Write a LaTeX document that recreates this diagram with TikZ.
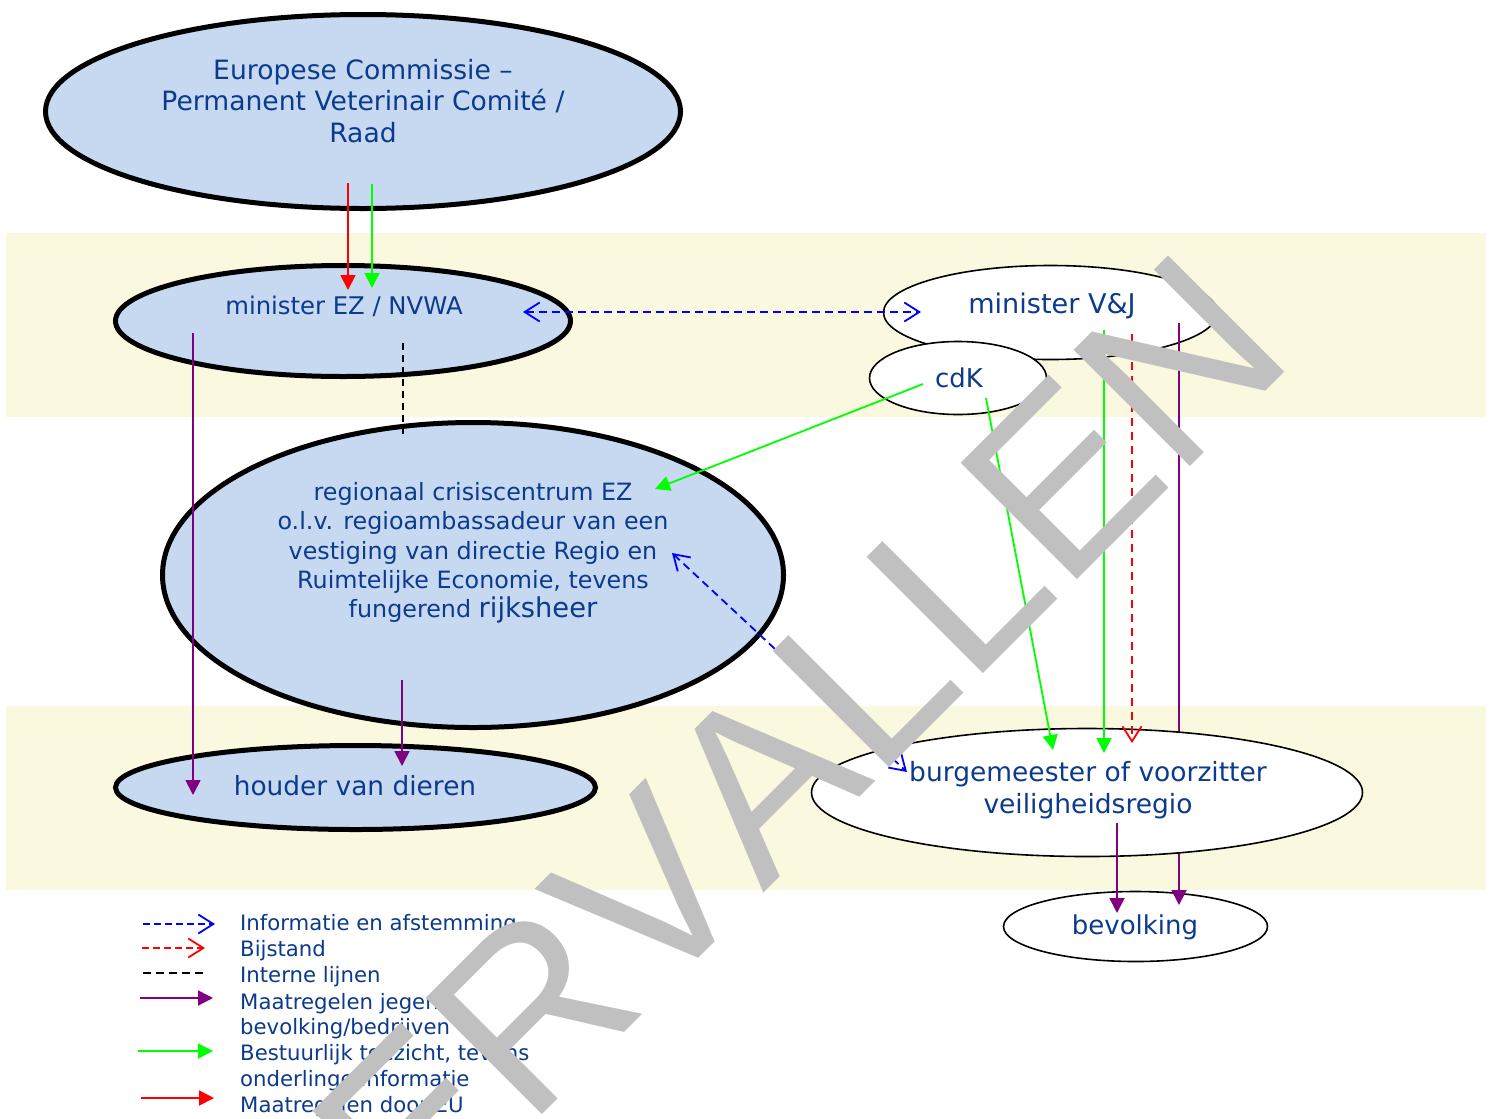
\documentclass[tikz,border=0pt]{standalone}
\usepackage{fontspec}
\setmainfont{DejaVu Sans}
\newfontfamily\wmfont[Kerning=Off]{Liberation Sans}
\usetikzlibrary{shapes.geometric,arrows.meta}
\definecolor{txtblue}{RGB}{12,58,140}
\definecolor{ellfill}{RGB}{198,217,241}
\definecolor{bandcol}{RGB}{250,248,222}
\definecolor{wmgray}{RGB}{192,192,192}
\definecolor{purp}{RGB}{128,0,128}
\definecolor{grn}{RGB}{0,255,0}
\definecolor{rd}{RGB}{255,0,0}
\definecolor{bl}{RGB}{0,0,255}
\begin{document}
\begin{tikzpicture}[x=1bp,y=-1bp,
  thickell/.style={ellipse, draw=black, line width=5bp, fill=ellfill, inner sep=0pt},
  thinell/.style={ellipse, draw=black, line width=1.6bp, fill=white, inner sep=0pt},
  lbl/.style={text=txtblue, inner sep=0pt, align=center},
  legtxt/.style={text=txtblue, inner sep=0pt, anchor=west, font=\fontsize{21.3}{26}\selectfont},
  conn/.style={line width=1.8bp},
  solidtip/.style={-{Triangle[length=15bp,width=15bp]}},
  opentip/.style={-{Straight Barb[length=15bp,width=19bp]}},
  bothopen/.style={{Straight Barb[length=15bp,width=19bp]}-{Straight Barb[length=15bp,width=19bp]}},
  bluedash/.style={conn, bl, dash pattern=on 8bp off 5bp},
  reddash/.style={conn, rd, dash pattern=on 8bp off 6bp},
  blackdash/.style={conn, black, dash pattern=on 7bp off 5bp},
]
\useasboundingbox (0,0) rectangle (1492,1118);
\clip (0,0) rectangle (1492,1118);
\fill[white] (0,0) rectangle (1492,1118);
\fill[bandcol] (6,233) rectangle (1486,417);
\fill[bandcol] (6,706) rectangle (1486,890);

% ellipses
\node[thickell, minimum width=635bp, minimum height=194bp] (ec) at (363,111.5) {};
\node[thickell, minimum width=455bp, minimum height=111bp] (ez) at (343,321) {};
\node[thickell, minimum width=621bp, minimum height=305bp] (rc) at (473,575) {};
\node[thickell, minimum width=480bp, minimum height=84bp] (hd) at (355.5,787.5) {};
\node[thinell, minimum width=334bp, minimum height=94bp] (vj) at (1050.5,312.5) {};
\node[thinell, minimum width=177bp, minimum height=73bp] (cdk) at (958,378) {};
\node[thinell, minimum width=264bp, minimum height=70bp] (bv) at (1135.5,926.5) {};

% coordinates
\coordinate (a1s) at (348,183); \coordinate (a1e) at (348,290);
\coordinate (a2s) at (372,184); \coordinate (a2e) at (372,288);
\coordinate (b1s) at (523,312); \coordinate (b1e) at (921,312);
\coordinate (p1s) at (193,333); \coordinate (p1e) at (193,795);
\coordinate (k1s) at (403,343); \coordinate (k1e) at (403,435);
\coordinate (g3s) at (923,384); \coordinate (g3e) at (655,489);
\coordinate (b2s) at (672,553); \coordinate (b2e) at (907,772);
\coordinate (p2s) at (402,680); \coordinate (p2e) at (402,766);
\coordinate (g4s) at (986,398); \coordinate (g4e) at (1053,750);
\coordinate (g5s) at (1104,330); \coordinate (g5e) at (1104,753);
\coordinate (r2s) at (1132,334); \coordinate (r2e) at (1132,743);
\coordinate (p3s) at (1179,323); \coordinate (p3e) at (1179,905);
\coordinate (p4s) at (1117,823); \coordinate (p4e) at (1117,913);

% purple line passing behind burgemeester
\draw[conn, purp, solidtip] (p3s) -- (p3e);

\node[thinell, minimum width=551bp, minimum height=128bp] (bg) at (1087,792.5) {};

% texts
\node[lbl, font=\fontsize{26.7}{32}\selectfont] (ecT) at (363,101) {Europese Commissie –\\Permanent Veterinair Comité /\\Raad};
\node[lbl, font=\fontsize{24.4}{29}\selectfont] (ezT) at (344,306) {minister EZ / NVWA};
\node[lbl, font=\fontsize{23.9}{29.5}\selectfont] (rcT) at (473,553) {regionaal crisiscentrum EZ\\o.l.v. regioambassadeur van een\\vestiging van directie Regio en\\Ruimtelijke Economie, tevens\\fungerend {\fontsize{27.4}{29.5}\selectfont rijksheer}};
\node[lbl, font=\fontsize{27.2}{32}\selectfont] (vjT) at (1052,306) {minister V\&J};
\node[lbl, font=\fontsize{26}{30}\selectfont] (cdkT) at (959,378) {cdK};
\node[lbl, font=\fontsize{26.5}{30}\selectfont] (hdT) at (355,786) {houder van dieren};
\node[lbl, font=\fontsize{26.6}{32}\selectfont] (bgT) at (1088,790) {burgemeester of voorzitter\\veiligheidsregio};
\node[lbl, font=\fontsize{26.1}{30}\selectfont] (bvT) at (1135,927) {bevolking};

% connectors
\draw[conn, rd, solidtip] (a1s) -- (a1e);
\draw[conn, grn, solidtip] (a2s) -- (a2e);
\draw[bluedash, bothopen] (b1s) -- (b1e);
\draw[conn, purp, solidtip] (p1s) -- (p1e);
\draw[blackdash] (k1s) -- (k1e);
\draw[conn, grn, solidtip] (g3s) -- (g3e);
\draw[bluedash, bothopen] (b2s) -- (b2e);
\draw[conn, purp, solidtip] (p2s) -- (p2e);
\draw[conn, grn, solidtip] (g4s) -- (g4e);
\draw[conn, grn, solidtip] (g5s) -- (g5e);
\draw[reddash, opentip] (r2s) -- (r2e);
\draw[conn, purp, solidtip] (p4s) -- (p4e);

% legend
\coordinate (l1s) at (143,924); \coordinate (l1e) at (215,924);
\coordinate (l2s) at (142,948); \coordinate (l2e) at (205,948);
\coordinate (l3s) at (143,973); \coordinate (l3e) at (207,973);
\coordinate (l4s) at (140,998); \coordinate (l4e) at (213,998);
\coordinate (l5s) at (138,1051); \coordinate (l5e) at (213,1051);
\coordinate (l6s) at (141,1098); \coordinate (l6e) at (214,1098);
\draw[conn, bl, dash pattern=on 7bp off 4bp, opentip] (l1s) -- (l1e);
\draw[conn, rd, dash pattern=on 7bp off 4bp, opentip] (l2s) -- (l2e);
\draw[conn, black, dash pattern=on 8bp off 5bp] (l3s) -- (l3e);
\draw[conn, purp, solidtip] (l4s) -- (l4e);
\draw[conn, grn, solidtip] (l5s) -- (l5e);
\draw[conn, rd, solidtip] (l6s) -- (l6e);
\node[legtxt] (t1) at (240,925) {Informatie en afstemming};
\node[legtxt] (t2) at (240,951) {Bijstand};
\node[legtxt] (t3) at (240,977) {Interne lijnen};
\node[legtxt] (t4) at (240,1004) {Maatregelen jegens};
\node[legtxt] (t5) at (240,1029) {bevolking/bedrijven};
\node[legtxt] (t6) at (240,1055) {Bestuurlijk toezicht, tevens};
\node[legtxt] (t7) at (240,1081) {onderlinge informatie};
\node[legtxt] (t8) at (240,1107) {Maatregelen door EU};

% watermark
\node[rotate=45, anchor=base west, inner sep=0pt, text=wmgray, font=\wmfont\fontsize{240}{240}\selectfont] (wm) at (302.5,1354.5) {VERVALLEN};
\end{tikzpicture}
\end{document}
